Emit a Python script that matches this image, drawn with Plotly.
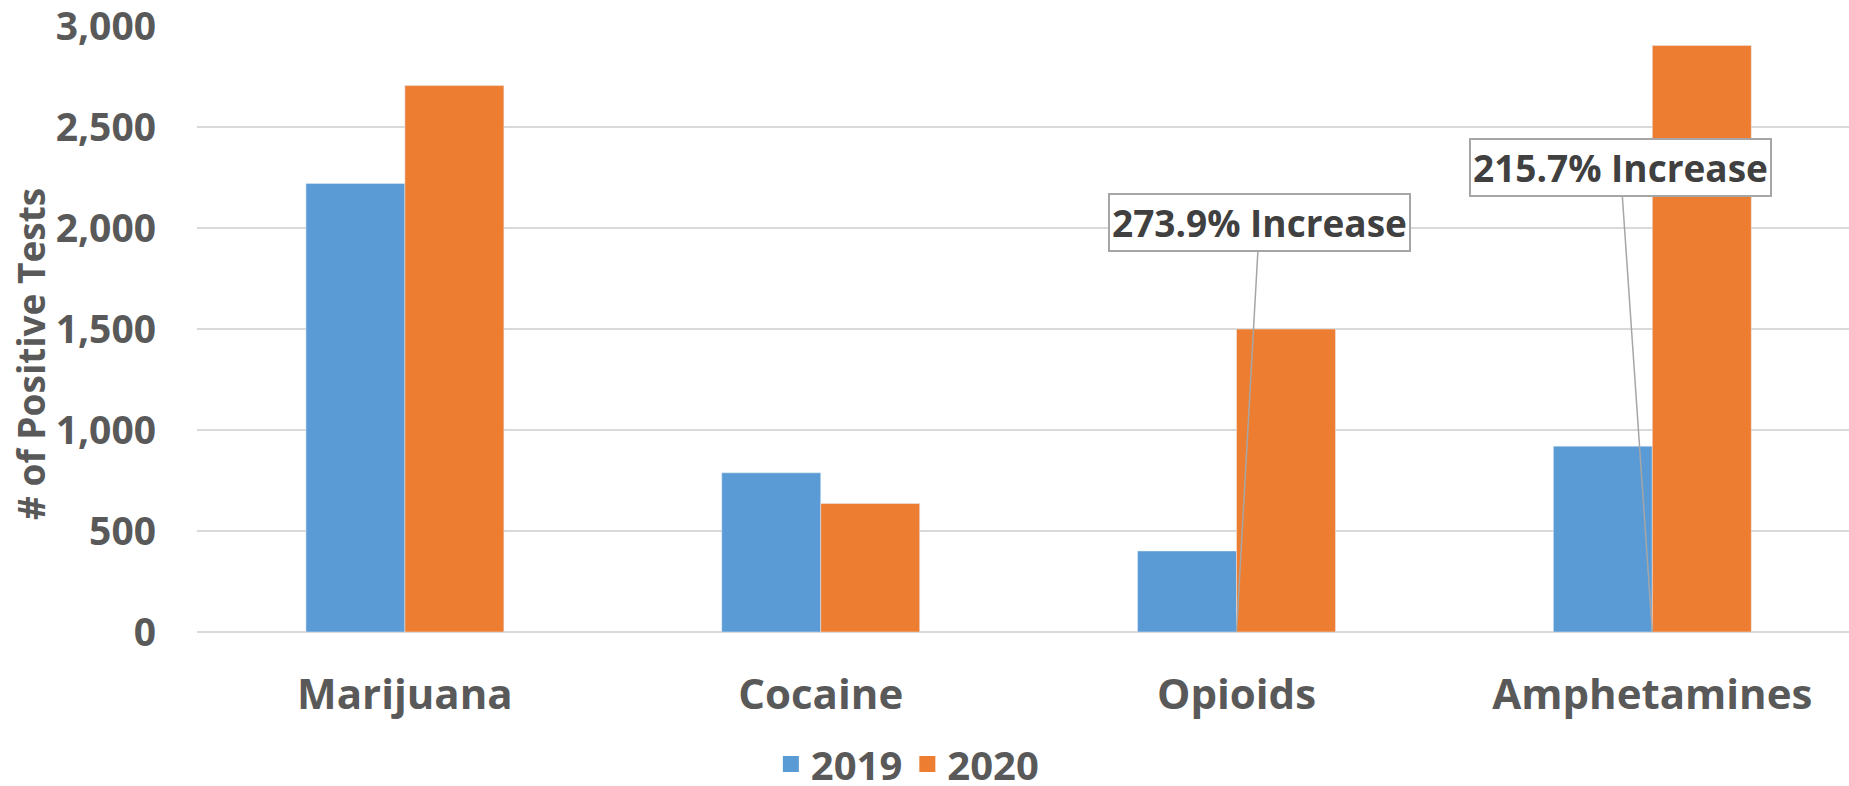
import plotly.graph_objects as go

categories = ["Marijuana", "Cocaine", "Opioids", "Amphetamines"]
tests_2019 = [2220, 788, 401, 920]
tests_2020 = [2705, 636, 1500, 2904]
y_ticks = [0, 500, 1000, 1500, 2000, 2500, 3000]
y_tick_labels = ["0", "500", "1,000", "1,500", "2,000", "2,500", "3,000"]
callouts = [("Opioids", "273.9% Increase"), ("Amphetamines", "215.7% Increase")]

BLUE = "#5B9BD5"
ORANGE = "#ED7D31"
GRID = "#D9D9D9"
AXIS_TEXT = "#595959"
FONT = "Open Sans"

fig = go.Figure()
fig.add_trace(go.Bar(x=categories, y=tests_2019, name="2019", marker_color=BLUE,
                     showlegend=False))
fig.add_trace(go.Bar(x=categories, y=tests_2020, name="2020", marker_color=ORANGE,
                     showlegend=False))

# legend entries with larger square swatches
for name, color in (("2019", BLUE), ("2020", ORANGE)):
    fig.add_trace(go.Scatter(
        x=[None], y=[None], mode="markers", name=name,
        marker=dict(symbol="square", size=22, color=color),
    ))

# callout boxes with leader lines pointing to the category baseline
offsets = [(23, -410), (-32, -465)]
for (cat, label), (ax, ay) in zip(callouts, offsets):
    fig.add_annotation(
        x=cat, y=0, xref="x", yref="y",
        text="<b>" + label + "</b>",
        showarrow=True, arrowhead=0, arrowwidth=1.5, arrowcolor="#A6A6A6",
        ax=ax, ay=ay, standoff=0,
        font=dict(family=FONT, size=37, color="#404040"),
        bgcolor="white", bordercolor="#A6A6A6", borderwidth=2, borderpad=2,
    )

# vertical axis title
fig.add_annotation(
    x=(30 - 197) / 1652, y=(632 - 354) / 606, xref="paper", yref="paper",
    text="<b># of Positive Tests</b>", textangle=-90, showarrow=False,
    font=dict(family=FONT, size=37, color=AXIS_TEXT),
    xanchor="center", yanchor="middle",
)

fig.update_layout(
    width=1849, height=786,
    margin=dict(l=197, r=0, t=26, b=154, autoexpand=False),
    paper_bgcolor="white", plot_bgcolor="white",
    barmode="group", bargap=0.524, bargroupgap=0,
    font=dict(family=FONT, color=AXIS_TEXT),
    legend=dict(
        orientation="h", x=0.43, xanchor="center", y=-0.218, yanchor="middle",
        font=dict(family=FONT, size=40, color=AXIS_TEXT, weight="bold"),
        itemwidth=30, traceorder="normal", itemsizing="trace",
    ),
    showlegend=True,
)
fig.update_xaxes(
    range=[-0.5, 3.473], showgrid=False, showline=False, zeroline=False,
    tickfont=dict(family=FONT, size=42, color=AXIS_TEXT, weight="bold"),
    ticks="", ticklabelstandoff=34, ticklabeloverflow="allow",
)
fig.update_yaxes(
    range=[0, 3000], tickvals=y_ticks, ticktext=y_tick_labels,
    showgrid=True, gridcolor=GRID, gridwidth=2,
    zeroline=True, zerolinecolor=GRID, zerolinewidth=2, showline=False,
    tickfont=dict(family=FONT, size=39, color=AXIS_TEXT, weight="bold"),
    ticks="", ticklabelstandoff=40, ticklabeloverflow="allow",
)

fig.write_html("out.html")
